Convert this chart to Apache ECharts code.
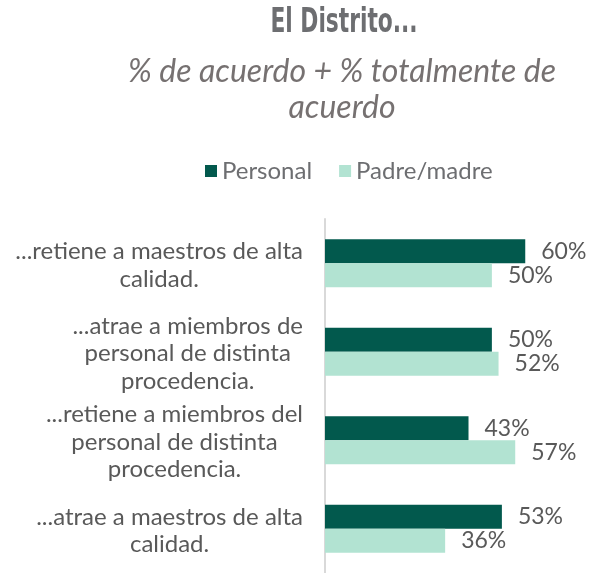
<!DOCTYPE html>
<html>
<head>
<meta charset="utf-8">
<script src="https://cdn.jsdelivr.net/npm/echarts@6/dist/echarts.min.js"></script>
<style>
  html, body { margin: 0; padding: 0; background: #fff; }
  #echarts { width: 600px; height: 573px; }
</style>
</head>
<body>
<div id="echarts"></div>
<script>
var categories = [
  '...retiene a maestros de alta\ncalidad.',
  '...atrae a miembros de\npersonal de distinta\nprocedencia.',
  '...retiene a miembros del\npersonal de distinta\nprocedencia.',
  '...atrae a maestros de alta\ncalidad.'
];
var personal = [60, 50, 43, 53];
var padres = [50, 52, 57, 36];

var myChart = echarts.init(document.getElementById('echarts'));

var gris = '#595959';

option = {
  backgroundColor: '#fff',
  animation: false,
  graphic: [
    {
      // titulo condensado
      type: 'text', x: 344, y: 7, scaleX: 0.66,
      style: {
        text: 'El Distrito...',
        textAlign: 'center', textVerticalAlign: 'top',
        font: 'bold 33px "DejaVu Sans", sans-serif',
        fill: '#6d6e71'
      }
    },
    {
      type: 'text', x: 342, y: 54,
      style: {
        text: '% de acuerdo + % totalmente de\nacuerdo',
        textAlign: 'center', textVerticalAlign: 'top',
        font: 'italic 32px Lato, sans-serif',
        lineHeight: 36,
        fill: '#767171'
      }
    }
  ],
  legend: {
    top: 154,
    left: 200,
    itemWidth: 12,
    itemHeight: 12,
    itemGap: 27,
    icon: 'rect',
    textStyle: { fontFamily: 'Lato', fontSize: 24, color: '#6d6e71' },
    data: ['Personal', 'Padre/madre']
  },
  grid: { left: 325, right: 8, top: 219, bottom: -6 },
  xAxis: {
    type: 'value',
    min: 0,
    max: 80,
    axisLine: { show: false },
    axisTick: { show: false },
    splitLine: { show: false },
    axisLabel: { show: false }
  },
  yAxis: {
    type: 'category',
    inverse: true,
    data: categories,
    axisTick: { show: false },
    axisLine: { show: true, lineStyle: { color: '#d9d9d9', width: 2 } },
    axisLabel: {
      margin: 22,
      padding: [4, 0, 0, 0],
      formatter: function (v) {
        return v.split('\n').map(function (l) { return '{a|' + l + '}'; }).join('\n');
      },
      rich: {
        a: { align: 'center', fontFamily: 'Lato', fontSize: 24, lineHeight: 27.5, color: gris }
      }
    }
  },
  series: [
    {
      name: 'Personal',
      type: 'bar',
      data: personal,
      barWidth: 24,
      barGap: '0%',
      itemStyle: { color: '#02594d' },
      label: {
        show: true, position: 'right', distance: 16,
        formatter: '{c}%',
        fontFamily: 'Lato', fontSize: 23, color: gris
      }
    },
    {
      name: 'Padre/madre',
      type: 'bar',
      data: padres,
      barWidth: 24,
      barGap: '0%',
      itemStyle: { color: '#b2e3d2' },
      label: {
        show: true, position: 'right', distance: 16,
        formatter: '{c}%',
        fontFamily: 'Lato', fontSize: 23, color: gris
      }
    }
  ]
};
myChart.setOption(option);
</script>
</body>
</html>
